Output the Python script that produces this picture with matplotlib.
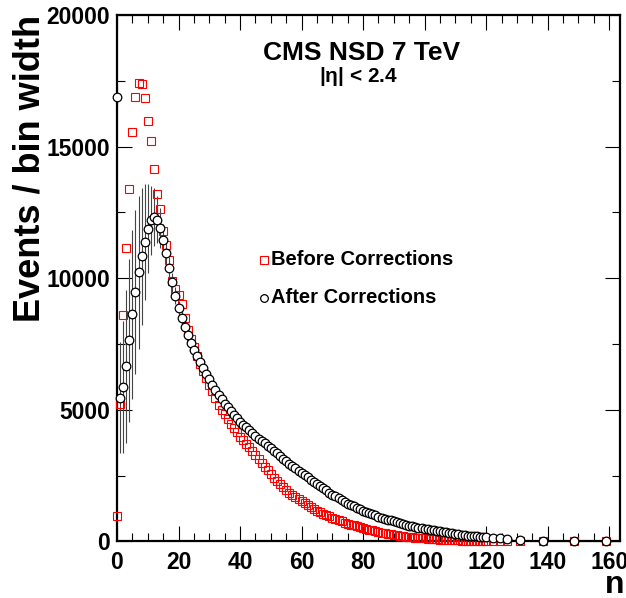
import numpy as np
import matplotlib.pyplot as plt
from matplotlib.ticker import MultipleLocator

plt.rcParams['font.family'] = ['Liberation Sans', 'DejaVu Sans']
plt.rcParams['font.weight'] = 'bold'

# multiplicity bins (unit bins up to 120, then wider bins)
n_unit = list(range(0, 121))
n_wide = [122.2, 124.4, 126.8, 131.0, 138.6, 148.6, 158.8]
n_vals = n_unit + n_wide
wide_halfwidth = [1.0, 1.0, 1.5, 3.0, 4.5, 5.5, 4.5]

# after corrections (black circles)
after = [16900, 5460, 5870, 6650, 7640, 8630, 9480, 10230, 10840, 11370,
         11880, 12200, 12330, 12230, 11910, 11450, 10940, 10370, 9840, 9340,
         8850, 8480, 8130, 7830, 7550, 7290, 7040, 6800, 6580, 6370,
         6160, 5960, 5770, 5580, 5400, 5230, 5090, 4950, 4810, 4680,
         4550, 4440, 4330, 4220, 4110, 4000, 3910, 3820, 3730, 3640,
         3550, 3450, 3350, 3250, 3150, 3050, 2960, 2870, 2780, 2690,
         2600, 2520, 2440, 2350, 2270, 2190, 2110, 2030, 1940, 1860,
         1780, 1710, 1640, 1570, 1500, 1430, 1380, 1330, 1270, 1220,
         1170, 1120, 1080, 1030, 990, 940, 900, 870, 830, 800,
         760, 730, 700, 660, 630, 600, 575, 550, 530, 505,
         480, 460, 440, 420, 400, 380, 360, 345, 325, 310,
         290, 275, 260, 240, 225, 210, 200, 190, 180, 170,
         160,
         140, 115, 90, 60, 35, 15, 6]

# errors on the corrected distribution (visible only at low n)
after_err_low = [400, 2100, 2500, 2900, 3100, 3200, 3100, 2900, 2600, 2200,
                 1700, 1300, 1100, 900, 750, 600, 500, 420, 360, 320,
                 290, 260, 240, 220, 200, 190, 180, 170, 160, 150, 140]

# before corrections (red squares)
before = [970, 5220, 8600, 11150, 13400, 15550, 16900, 17430, 17380, 16850,
          15990, 15220, 14150, 13200, 12620, 11780, 11260, 10680, 9900, 9600,
          9350, 9010, 8470, 8050, 7710, 7390, 7040, 6750, 6480, 6210,
          5950, 5700, 5450, 5200, 5010, 4830, 4650, 4480, 4310, 4140,
          3970, 3840, 3710, 3590, 3440, 3290, 3140, 2990, 2840, 2700,
          2550, 2430, 2310, 2190, 2070, 1950, 1860, 1780, 1690, 1610,
          1520, 1450, 1380, 1310, 1240, 1170, 1120, 1060, 1010, 950,
          900, 860, 810, 770, 720, 680, 640, 610, 570, 540,
          500, 470, 440, 420, 390, 360, 340, 320, 290, 270,
          250, 235, 220, 200, 185, 170, 160, 150, 135, 125,
          115, 105, 100, 90, 85, 75, 70, 60, 55, 50,
          45, 40, 35, 32, 28, 25, 22, 20, 18, 16,
          15,
          12, 10, 8, 5, 3, 2, 1]

x = np.array(n_vals, dtype=float)
after = np.array(after, dtype=float)
before = np.array(before, dtype=float)
yerr = np.zeros(len(x))
yerr[:len(after_err_low)] = after_err_low
xerr = np.zeros(len(x))
xerr[len(n_unit):] = wide_halfwidth

fig = plt.figure(figsize=(6.26, 5.98), dpi=100)
ax = fig.add_axes([0.1869, 0.0945, 0.8035, 0.8805])

ax.errorbar(x, after, yerr=yerr, xerr=xerr, fmt='none', ecolor='#444444',
            elinewidth=0.8, capsize=0, zorder=2, clip_on=False)
ax.plot(x, before, linestyle='none', marker='s', ms=5.5, mfc='none',
        mec='#ff0000', mew=0.8, zorder=3, clip_on=False)
ax.plot(x, after, linestyle='none', marker='o', ms=6.2, mfc='white',
        mec='black', mew=0.9, zorder=4, clip_on=False)

ax.set_xlim(0, 163.5)
ax.set_ylim(0, 20000)
ax.xaxis.set_major_locator(MultipleLocator(20))
ax.xaxis.set_minor_locator(MultipleLocator(5))
ax.yaxis.set_major_locator(MultipleLocator(5000))
ax.yaxis.set_minor_locator(MultipleLocator(2500))
ax.tick_params(which='both', direction='in', top=True, right=True, width=0.8,
               labelsize=16.5)
ax.tick_params(axis='x', pad=7)
ax.tick_params(axis='y', pad=5)
ax.tick_params(which='major', length=11)
ax.tick_params(which='minor', length=6)
for sp in ax.spines.values():
    sp.set_linewidth(1.6)
for lab in ax.get_xticklabels() + ax.get_yticklabels():
    lab.set_fontweight('bold')

ax.set_ylabel('Events / bin width', fontsize=26, fontweight='bold', loc='top',
              labelpad=-1)
# axis title sits below the last tick label, as in the ROOT original
fig.text(0.997, -0.004, 'n', fontsize=23, fontweight='bold', ha='right',
         va='bottom')

ax.text(0.486, 0.928, 'CMS NSD 7 TeV', transform=ax.transAxes, fontsize=19,
        fontweight='bold', ha='center', va='center')
ax.text(0.48, 0.884, r'|$\mathregular{\eta}$| < 2.4', transform=ax.transAxes,
        fontsize=15, fontweight='bold', ha='center', va='center')

# legend entries
ax.plot([0.292], [0.5347], transform=ax.transAxes, marker='s', ms=5.5,
        mfc='none', mec='#ff0000', mew=0.8, linestyle='none')
ax.text(0.306, 0.5347, 'Before Corrections', transform=ax.transAxes,
        fontsize=14.5, fontweight='bold', ha='left', va='center')
ax.plot([0.292], [0.4625], transform=ax.transAxes, marker='o', ms=5.5,
        mfc='none', mec='black', mew=0.9, linestyle='none')
ax.text(0.306, 0.4625, 'After Corrections', transform=ax.transAxes,
        fontsize=14.5, fontweight='bold', ha='left', va='center')

fig.savefig('out.png', dpi=100)
